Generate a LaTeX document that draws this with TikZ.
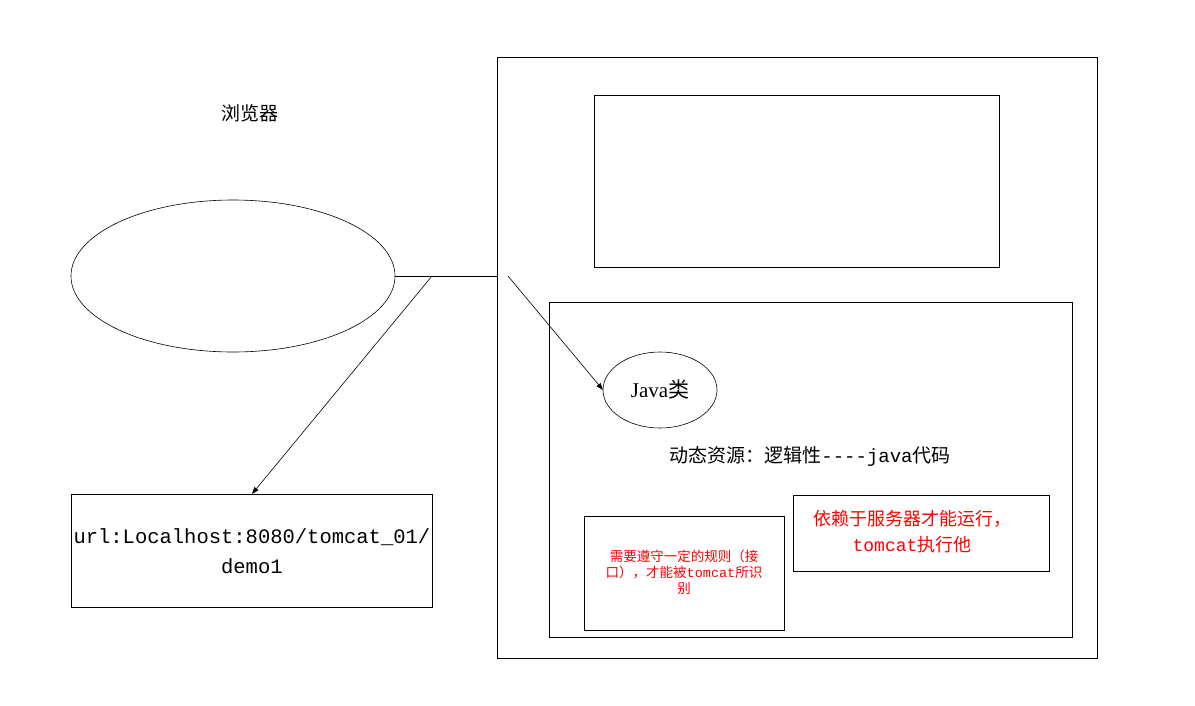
\documentclass[tikz,border=0pt]{standalone}
\usepackage{fontspec}
\setmainfont{Liberation Mono}
\newfontfamily\cjk{Noto Sans CJK SC}
\newfontfamily\serif{Liberation Serif}
\usetikzlibrary{arrows.meta,shapes.geometric}
\begin{document}
\begin{tikzpicture}[x=1pt,y=-1pt,
  box/.style={draw,line width=0.8pt},
  arr/.style={-{Triangle[length=7pt,width=5pt]},line width=0.6pt},
  txt/.style={font=\fontsize{19}{22}\selectfont,align=center},
  red/.style={text=red,align=center}]
\useasboundingbox (0,0) rectangle (1195,705);
\node[txt] (lbl) at (250,113) {\cjk 浏览器};
\draw[line width=0.6pt] (233,276) ellipse (162 and 76);
\coordinate (e) at (395,276);
\coordinate (j) at (432,276);
\coordinate (o) at (497,276);
\draw[line width=0.6pt] (e) -- (o);
\node[box,minimum width=361pt,minimum height=113pt,anchor=north west,inner sep=0pt] (url) at (71,494) {};
\node[font=\fontsize{20.5}{30}\selectfont,align=center] at (url.center) {url:Localhost:8080/tomcat\_01/\\demo1};
\draw[arr] (j) -- (252,494);
\draw[box] (497,57) rectangle (1097,658);
\draw[box] (594,95) rectangle (999,267);
\draw[box] (549,302) rectangle (1072,637);
\node[draw,ellipse,line width=0.6pt,minimum width=114pt,minimum height=76pt,inner sep=0pt,font=\fontsize{21}{24}\selectfont] (java) at (660,390) {\serif Java\cjk 类};
\coordinate (s) at (508,276);
\draw[arr] (s) -- (603,390);
\node[txt] (dyn) at (810,456) {{\cjk 动态资源：逻辑性}{-}{-}{-}{-}java{\cjk 代码}};
\node[box,minimum width=200pt,minimum height=114pt,anchor=north west,inner sep=0pt] (r1) at (584,516) {};
\node[red,font=\fontsize{13.5}{16}\selectfont] at (684,572) {{\cjk 需要遵守一定的规则（接}\\{\cjk 口），才能被}tomcat{\cjk 所识}\\{\cjk 别}};
\node[box,minimum width=256pt,minimum height=76pt,anchor=north west,inner sep=0pt] (r2) at (793,495) {};
\node[red,font=\fontsize{18}{26}\selectfont] at (912,532) {{\cjk 依赖于服务器才能运行，}\\tomcat{\cjk 执行他}};
\end{tikzpicture}
\end{document}
